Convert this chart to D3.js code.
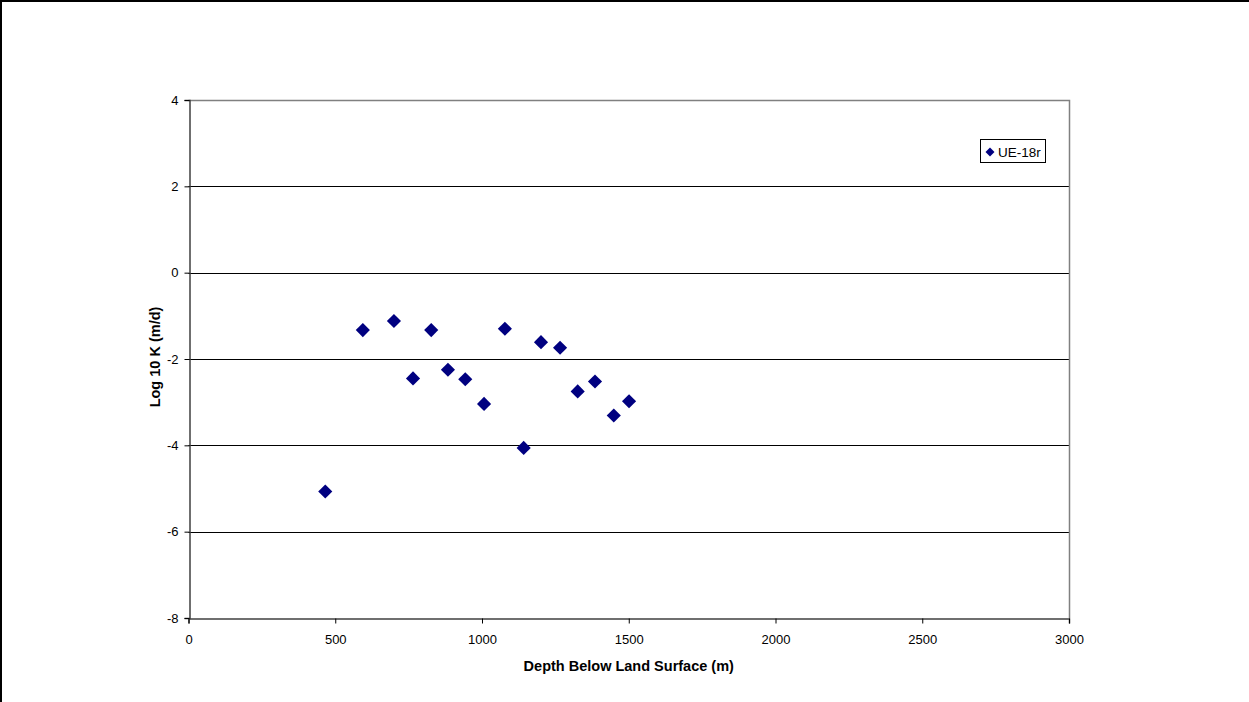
<!DOCTYPE html>
<html><head><meta charset="utf-8">
<script src="https://cdn.jsdelivr.net/npm/d3@7"></script>
<style>body{margin:0;background:#fff;}svg{display:block;font-family:"Liberation Sans",Arial,sans-serif;}</style>
</head><body>
<svg id="c" width="1249" height="702"></svg>
<script>
const seriesName = "UE-18r";
const depth = [466, 594, 700, 765, 827, 884, 943, 1007, 1078, 1142, 1201, 1266, 1326, 1385, 1449, 1501];
const logK  = [-5.07, -1.33, -1.12, -2.45, -1.33, -2.25, -2.47, -3.04, -1.30, -4.06, -1.61, -1.74, -2.75, -2.52, -3.31, -2.98];
const xTicks = [0, 500, 1000, 1500, 2000, 2500, 3000];
const yTicks = [-8, -6, -4, -2, 0, 2, 4];

const svg = d3.select("#c");
// outer chart border (top and left visible)
svg.append("line").attr("x1",0).attr("x2",1249).attr("y1",1).attr("y2",1).attr("stroke","#000").attr("stroke-width",2);
svg.append("line").attr("x1",1).attr("x2",1).attr("y1",0).attr("y2",702).attr("stroke","#000").attr("stroke-width",2);

const L = 188.5, R = 1069, T = 100, B = 618;
const x = d3.scaleLinear().domain([0,3000]).range([L,R]);
const y = d3.scaleLinear().domain([-8,4]).range([B,T]);

// gridlines
svg.append("g").selectAll("line").data(yTicks.filter(v=>v>-8 && v<4)).join("line")
  .attr("x1",L).attr("x2",R).attr("y1",d=>Math.round(y(d))+0.5).attr("y2",d=>Math.round(y(d))+0.5)
  .attr("stroke","#000").attr("stroke-width",1);
// plot border (top/right gray)
svg.append("path").attr("d",`M${L},${Math.round(T)+0.5}H${Math.round(R)+0.5}V${B}`).attr("fill","none").attr("stroke","#808080").attr("stroke-width",1.5);

const fmt = d => String(d);
// axes
const xAxis = d3.axisBottom(x).tickValues(xTicks).tickSize(5).tickPadding(11).tickFormat(fmt);
const gx = svg.append("g").attr("transform",`translate(0,${Math.round(B)+0.5})`).call(xAxis);
const yAxis = d3.axisLeft(y).tickValues(yTicks).tickSize(5).tickPadding(6).tickFormat(fmt);
const gy = svg.append("g").attr("transform",`translate(${Math.round(L)+0.5},0)`).call(yAxis);
[gx,gy].forEach(g=>{
  g.select(".domain").attr("stroke","#404040").attr("stroke-width",1.5);
  g.selectAll(".tick line").attr("stroke","#000");
  g.selectAll("text").attr("font-size","13px").attr("fill","#000").attr("font-family","'Liberation Sans',Arial,sans-serif");
});

// axis titles
svg.append("text").attr("x",(L+R)/2).attr("y",671).attr("text-anchor","middle")
  .attr("font-size","14.5px").attr("font-weight","bold").text("Depth Below Land Surface (m)");
svg.append("text").attr("transform",`translate(160,${(T+B)/2 - 2}) rotate(-90)`).attr("text-anchor","middle")
  .attr("font-size","14.5px").attr("font-weight","bold").text("Log 10 K (m/d)");

// points
const diamond = d3.symbol().type(d3.symbolSquare).size(100);
const pts = depth.map((d,i)=>({x:d,y:logK[i]}));
svg.append("g").selectAll("path").data(pts).join("path")
  .attr("d",diamond)
  .attr("transform",d=>`translate(${x(d.x)},${y(d.y)}) rotate(45)`)
  .attr("fill","#000080");

// legend
const lg = svg.append("g");
lg.append("rect").attr("x",980.5).attr("y",139.5).attr("width",65).attr("height",23).attr("fill","#fff").attr("stroke","#000").attr("stroke-width",1);
lg.append("path").attr("d",d3.symbol().type(d3.symbolSquare).size(40)).attr("transform","translate(990,152) rotate(45)").attr("fill","#000080");
lg.append("text").attr("x",998).attr("y",156.5).attr("font-size","13.5px").text(seriesName);
</script>
</body></html>
